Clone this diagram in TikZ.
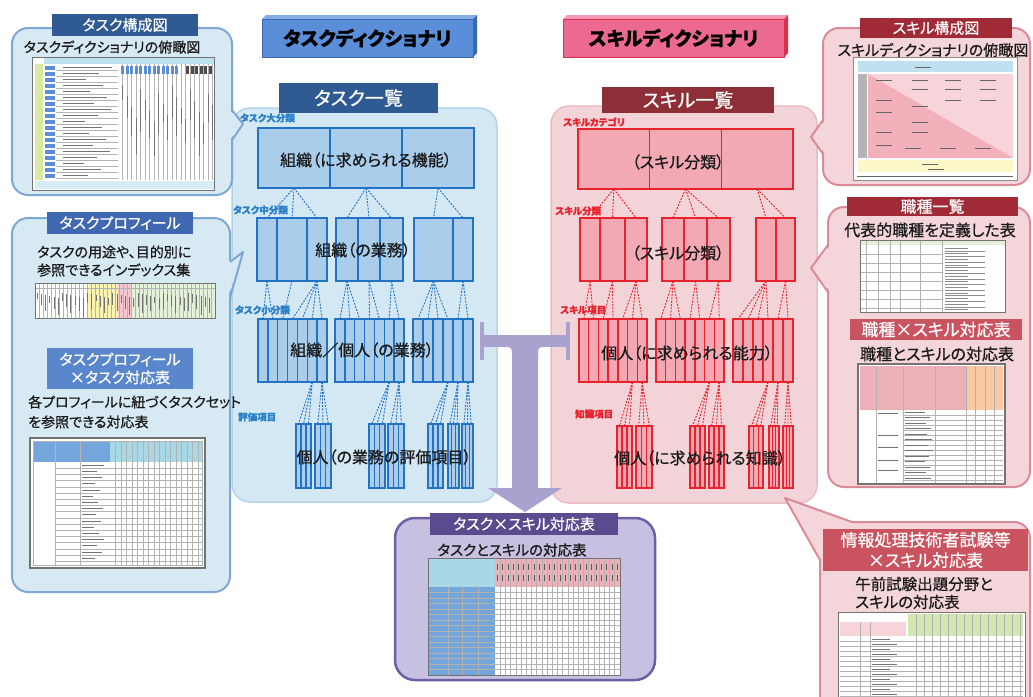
\documentclass[tikz,border=0pt]{standalone}
\usepackage{fontspec}
\setmainfont{Noto Sans CJK JP}[RawFeature=+palt, FakeBold=0.7]
\definecolor{tdark}{HTML}{2F5A92}
\definecolor{tmid}{HTML}{3F68B0}
\definecolor{tlight}{HTML}{5A87CB}
\definecolor{bubTfill}{HTML}{D7EAF4}
\definecolor{bubTdraw}{HTML}{7FA7D4}
\definecolor{tpanel}{HTML}{D4E8F3}
\definecolor{tpanelb}{HTML}{B3D3E8}
\definecolor{tbox}{HTML}{A9CDEB}
\definecolor{tboxb}{HTML}{2373C4}
\definecolor{tlab}{HTML}{2B80C9}
\definecolor{thead}{HTML}{5B8ED8}
\definecolor{theadb}{HTML}{3A69B2}
\definecolor{theadt}{HTML}{86ADE6}
\definecolor{shead}{HTML}{EC6A92}
\definecolor{sheadb}{HTML}{D9304E}
\definecolor{sheadt}{HTML}{F49AB5}
\definecolor{sdark}{HTML}{8E2F38}
\definecolor{sred}{HTML}{A02A36}
\definecolor{smid}{HTML}{C9545F}
\definecolor{bubSfill}{HTML}{F4D6DA}
\definecolor{bubSdraw}{HTML}{D98C97}
\definecolor{spanel}{HTML}{F2D4D8}
\definecolor{spanelb}{HTML}{E9BBC2}
\definecolor{sbox}{HTML}{F3A9B3}
\definecolor{sboxb}{HTML}{E8232E}
\definecolor{slab}{HTML}{E8232E}
\definecolor{arrowc}{HTML}{A9A2CF}
\definecolor{purfill}{HTML}{C8C0E0}
\definecolor{purdraw}{HTML}{6E5EA6}
\definecolor{purbar}{HTML}{5B4A8E}
\definecolor{txt}{HTML}{1A1A1A}
\definecolor{thblue}{HTML}{BFE0EE}
\definecolor{thgreen}{HTML}{D9E8A2}
\definecolor{thcell}{HTML}{5B8ED6}
\definecolor{thyel}{HTML}{FBF4B0}
\definecolor{thpink}{HTML}{F6C6D0}
\definecolor{thlgreen}{HTML}{E4F1DA}
\definecolor{thgreen2}{HTML}{D3E7B0}
\definecolor{thgray}{HTML}{B4B4B4}
\definecolor{thorange}{HTML}{F8C9A2}
\definecolor{thbh}{HTML}{74A6DC}
\definecolor{thcyan}{HTML}{A8D8E6}
\definecolor{thpinkl}{HTML}{F7D4DA}
\definecolor{thpinkd}{HTML}{F2B0BA}
\definecolor{thpinkh}{HTML}{EDB0B8}
\newcommand\fsz[1]{\fontsize{#1}{\dimexpr #1pt*6/5\relax}\selectfont}
\newcommand\mkcell[6]{\node[#6, minimum width={(#4-#2)*1pt}, minimum height={(#5-#3)*1pt}, anchor=north west] (#1) at (#2,#3) {};}
\newcommand\mkcols[7]{%
  \pgfmathsetmacro\cw{(#3-#2)/#6}%
  \foreach \ci in {1,...,#6}{%
    \node[#7, minimum width=\cw pt, minimum height={(#5-#4)*1pt}, anchor=north west] (#1-\ci) at ({#2+(\ci-1)*\cw},#4) {};
  }}
\newcommand\mkfan[4]{\foreach \k in {#3}{\draw[#4] (#1.south) -- (#2-\k.north);}}
\newcommand\thvgrid[6]{%
  \pgfmathtruncatemacro\gn{(#3-#1)/#5-0.01}%
  \foreach \gi in {1,...,\gn}{\draw[#6] ({#1+\gi*#5},#2) -- ({#1+\gi*#5},#4);}}
\newcommand\thhgrid[6]{%
  \pgfmathtruncatemacro\gm{(#4-#2)/#5-0.01}%
  \foreach \gi in {1,...,\gm}{\draw[#6] (#1,{#2+\gi*#5}) -- (#3,{#2+\gi*#5});}}
\newcommand\mkbar[8]{\node[fill=#6, inner sep=0pt, minimum width={(#4-#2)*1pt}, minimum height={(#5-#3)*1pt}, text=white, align=center, font=\fsz{#7}] (#1) at ({(#2+#4)/2},{(#3+#5)/2}) {#8};}
\begin{document}
\begin{tikzpicture}[x=1pt,y=-1pt,
  tcol/.style={draw=tboxb, fill=tbox, line width=1.4pt, inner sep=0pt, outer sep=0pt},
  tcolt/.style={draw=tboxb, fill=tbox, line width=1.1pt, inner sep=0pt, outer sep=0pt},
  scol/.style={draw=sboxb, fill=sbox, line width=1.4pt, inner sep=0pt, outer sep=0pt},
  scolt/.style={draw=sboxb, fill=sbox, line width=1.1pt, inner sep=0pt, outer sep=0pt},
  tdash/.style={draw=tboxb, line width=0.9pt, dash pattern=on 2pt off 1.3pt},
  sdash/.style={draw=sboxb, line width=0.9pt, dash pattern=on 2pt off 1.3pt},
  tlabel/.style={text=tlab, font=\fsz{9.5}\bfseries, anchor=west, inner sep=0pt},
  slabel/.style={text=slab, font=\fsz{9.5}\bfseries, anchor=west, inner sep=0pt},
  boxtext/.style={text=txt, font=\fsz{16}, inner sep=0pt},
  desc/.style={text=txt, inner sep=0pt},
  bubT/.style={fill=bubTfill, draw=bubTdraw, line width=2pt},
  bubS/.style={fill=bubSfill, draw=bubSdraw, line width=2pt},
  thl/.style={draw=black!30, line width=0.35pt},
  thtxt/.style={draw=black!55, line width=0.6pt},
  thframe/.style={draw=black!55, line width=0.8pt},
  ptrT/.style={draw=bubTdraw, line width=2pt, line join=round},
  ptrS/.style={draw=bubSdraw, line width=2pt, line join=round},
]
\useasboundingbox (0,0) rectangle (1033,696);
\fill[white] (0,0) rectangle (1033,696);

% ===== panels =====
\draw[fill=tpanel, draw=tpanelb, line width=1.5pt, rounded corners=18] (232,108) rectangle (497,502);
\draw[fill=spanel, draw=spanelb, line width=1.5pt, rounded corners=18] (551,106) rectangle (817,503);

% ===== 3D headers =====
\fill[theadt] (262,19) -- (266,15) -- (477,15) -- (473,19) -- cycle;
\fill[theadb] (473,19) -- (477,15) -- (477,53) -- (473,57) -- cycle;
\node[fill=thead, draw=theadb, line width=0.8pt, minimum width=211pt, minimum height=38pt, inner sep=0pt, font=\fsz{19}\bfseries, text=black] (thd) at (367.5,38) {タスクディクショナリ};
\fill[sheadt] (563,19) -- (567,15) -- (788,15) -- (784,19) -- cycle;
\fill[sheadb] (784,19) -- (788,15) -- (788,53) -- (784,57) -- cycle;
\node[fill=shead, draw=sheadb, line width=0.8pt, minimum width=221pt, minimum height=38pt, inner sep=0pt, font=\fsz{19}\bfseries, text=black] (shd) at (673.5,38) {スキルディクショナリ};

\mkbar{tlist}{279}{83}{438}{113}{tdark}{19}{タスク一覧}
\mkbar{slist}{602}{87}{774}{113}{sdark}{19}{スキル一覧}

% ===== task tree =====
\mkcols{TA}{258}{474}{128}{188}{3}{tcol}
\mkcell{TB-1}{257}{218}{277}{281}{tcol}
\mkcell{TB-2}{277}{218}{307}{281}{tcol}
\mkcell{TB-3}{307}{218}{327}{281}{tcol}
\mkcell{TB-4}{336}{218}{358}{281}{tcol}
\mkcell{TB-5}{358}{218}{380}{281}{tcol}
\mkcell{TB-6}{380}{218}{403}{281}{tcol}
\mkcell{TB-7}{414}{218}{453}{281}{tcol}
\mkcell{TB-8}{453}{218}{473}{281}{tcol}
\mkcols{TCa}{258}{327}{319}{382}{7}{tcol}
\mkcols{TCb}{335}{404}{319}{382}{7}{tcol}
\mkcols{TCc}{413}{473}{319}{382}{6}{tcol}
\mkcols{TDa}{296}{311}{424}{488}{3}{tcolt}
\mkcols{TDb}{315}{331}{424}{488}{3}{tcolt}
\mkcols{TDc}{369}{385}{424}{488}{3}{tcolt}
\mkcols{TDd}{388}{404}{424}{488}{3}{tcolt}
\mkcols{TDe}{428}{443}{424}{488}{3}{tcolt}
\mkcols{TDf}{448}{459}{424}{488}{3}{tcolt}
\mkcols{TDg}{462}{473}{424}{488}{3}{tcolt}
\mkfan{TA-1}{TB}{1,2,3}{tdash}
\mkfan{TA-2}{TB}{4,5,6}{tdash}
\mkfan{TA-3}{TB}{7,8}{tdash}
\mkfan{TB-1}{TCa}{1,2}{tdash}
\mkfan{TB-2}{TCa}{3}{tdash}
\mkfan{TB-3}{TCa}{4,5,6,7}{tdash}
\mkfan{TB-4}{TCb}{1,2,3}{tdash}
\mkfan{TB-5}{TCb}{4,5}{tdash}
\mkfan{TB-6}{TCb}{6,7}{tdash}
\mkfan{TB-7}{TCc}{1,2,3,4}{tdash}
\mkfan{TB-8}{TCc}{5,6}{tdash}
\mkfan{TCa-6}{TDa}{1,2,3}{tdash}
\mkfan{TCa-7}{TDb}{1,2,3}{tdash}
\mkfan{TCb-6}{TDc}{1,2,3}{tdash}
\mkfan{TCb-7}{TDd}{1,2,3}{tdash}
\mkfan{TCc-4}{TDe}{1,2,3}{tdash}
\mkfan{TCc-5}{TDf}{1,2,3}{tdash}
\mkfan{TCc-6}{TDg}{1,2,3}{tdash}
\node[tlabel] (lt1) at (240,118) {タスク大分類};
\node[tlabel] (lt2) at (233,210) {タスク中分類};
\node[tlabel] (lt3) at (235,310) {タスク小分類};
\node[tlabel] (lt4) at (238,417) {評価項目};
\node[boxtext] (tx1) at (366,160) {組織（に求められる機能）};
\node[boxtext] (tx2) at (363,250) {組織（の業務）};
\node[boxtext] (tx3) at (362,350) {組織／個人（の業務）};
\node[boxtext] (tx4) at (384,457) {個人（の業務の評価項目）};

% ===== skill tree =====
\mkcols{SA}{578}{793}{129}{189}{3}{scol}
\mkcell{SB-1}{580}{218}{600}{281}{scol}
\mkcell{SB-2}{600}{218}{625}{281}{scol}
\mkcell{SB-3}{625}{218}{647}{281}{scol}
\mkcell{SB-4}{662}{218}{684}{281}{scol}
\mkcell{SB-5}{684}{218}{707}{281}{scol}
\mkcell{SB-6}{707}{218}{730}{281}{scol}
\mkcell{SB-7}{756}{218}{776}{281}{scol}
\mkcell{SB-8}{776}{218}{795}{281}{scol}
\mkcols{SCa}{579}{647}{319}{382}{7}{scol}
\mkcols{SCb}{656}{724}{319}{382}{7}{scol}
\mkcols{SCc}{733}{793}{319}{382}{6}{scol}
\mkcols{SDa}{617}{632}{426}{488}{3}{scolt}
\mkcols{SDb}{636}{652}{426}{488}{3}{scolt}
\mkcols{SDc}{690}{705}{426}{488}{3}{scolt}
\mkcols{SDd}{709}{724}{426}{488}{3}{scolt}
\mkcols{SDe}{749}{763}{426}{488}{3}{scolt}
\mkcols{SDf}{769}{779}{426}{488}{3}{scolt}
\mkcols{SDg}{783}{793}{426}{488}{3}{scolt}
\mkfan{SA-1}{SB}{1,2,3}{sdash}
\mkfan{SA-2}{SB}{4,5,6}{sdash}
\mkfan{SA-3}{SB}{7,8}{sdash}
\mkfan{SB-1}{SCa}{1,2}{sdash}
\mkfan{SB-2}{SCa}{3,4}{sdash}
\mkfan{SB-3}{SCa}{5,6,7}{sdash}
\mkfan{SB-4}{SCb}{1,2,3}{sdash}
\mkfan{SB-5}{SCb}{4,5}{sdash}
\mkfan{SB-6}{SCb}{6,7}{sdash}
\mkfan{SB-7}{SCc}{1,2,3,4}{sdash}
\mkfan{SB-8}{SCc}{5,6}{sdash}
\mkfan{SCa-6}{SDa}{1,2,3}{sdash}
\mkfan{SCa-7}{SDb}{1,2,3}{sdash}
\mkfan{SCb-6}{SDc}{1,2,3}{sdash}
\mkfan{SCb-7}{SDd}{1,2,3}{sdash}
\mkfan{SCc-4}{SDe}{1,2,3}{sdash}
\mkfan{SCc-5}{SDf}{1,2,3}{sdash}
\mkfan{SCc-6}{SDg}{1,2,3}{sdash}
\node[slabel] (ls1) at (563,122) {スキルカテゴリ};
\node[slabel] (ls2) at (555,211) {スキル分類};
\node[slabel] (ls3) at (560,310) {スキル項目};
\node[slabel] (ls4) at (575,414) {知識項目};
\node[boxtext] (sx1) at (678,162) {（スキル分類）};
\node[boxtext] (sx2) at (678,253) {（スキル分類）};
\node[boxtext] (sx3) at (687,353) {個人（に求められる能力）};
\node[boxtext] (sx4) at (700,458) {個人（に求められる知識）};

% ===== T arrow =====
\fill[arrowc] (480,322) rectangle (484,360);
\fill[arrowc] (566,322) rectangle (570,360);
\fill[arrowc] (482,335) rectangle (568,347);
\fill[arrowc] (504,347) .. controls (512,347) .. (512,356) -- (538,356) .. controls (538,347) .. (546,347) -- cycle;
\fill[arrowc] (512,346) -- (538,346) -- (538,488) -- (562,488) -- (525,512) -- (488,488) -- (512,488) -- cycle;

% ===== bottom purple bubble =====
\draw[fill=purfill, draw=purdraw, line width=2.5pt, rounded corners=20] (395,518) rectangle (655,680);
\node[desc, font=\fsz{14.5}] (d8) at (512,550) {タスクとスキルの対応表};
\fill[white] (428,558) rectangle (620,675);
\fill[thcyan] (428,558) rectangle (495,587);
\fill[thpinkh] (495,558) rectangle (620,587);
\fill[thbh] (428,587) rectangle (495,675);
\thhgrid{428}{587}{620}{675}{5.5}{thl}
\thvgrid{495}{558}{620}{675}{5.2}{thl}
\foreach \x in {448,462,478}{\draw[thl] (\x,587) -- (\x,675);}
\foreach \c in {0,...,23}{\draw[black!65, line width=0.8pt] ({497.5+\c*5.2},564) -- ++(0,6); \draw[black!65, line width=0.8pt] ({497.5+\c*5.2},575) -- ++(0,6);}
\draw[thframe] (428,558) rectangle (620,675);
\mkbar{b10}{430}{513}{618}{535}{purbar}{15}{タスク×スキル対応表}

% ===== left bubble 1 =====
\draw[bubT, rounded corners=16] (12,28) rectangle (232,195);
\fill[bubTfill] (229.5,110) -- (243,124) -- (229.5,140) -- cycle;
\draw[ptrT] (232,110) -- (243,124) -- (232,140);
\node[desc, font=\fsz{14}] (d1) at (112,47) {タスクディクショナリの俯瞰図};
\fill[white] (32,57) rectangle (214,190);
\fill[thblue] (44,58) rectangle (214,64);
\fill[thgreen] (35,64) rectangle (43,180);
\foreach \r in {0,...,18}{\fill[thcell] (45,{65.5+\r*6}) rectangle (55,{69.5+\r*6});}
\thhgrid{56}{64}{118}{180}{6}{thl}
\foreach \r in {0,...,18}{\draw[thtxt] (63,{67.5+\r*6}) -- ({112-mod(\r*13,30)},{67.5+\r*6});}
\thvgrid{118}{64}{214}{180}{4.5}{thl}
\foreach \c in {0,...,12}{\fill[thcell] ({121+\c*4.5},66) rectangle ({124+\c*4.5},74);}
\foreach \c in {0,...,5}{\fill[black!70] ({186+\c*4.5},66) rectangle ({189+\c*4.5},74);}
\foreach \c in {0,...,20}{\draw[thtxt] ({122.5+\c*4.5},{85+mod(\c*11,40)}) -- ++(0,{15+mod(\c*7,30)});}
\fill[thblue!60] (35,181) rectangle (214,189);
\draw[thframe] (32,57) rectangle (214,190);
\mkbar{b1}{52}{14}{198}{36}{tdark}{15}{タスク構成図}

% ===== left bubble 2 =====
\draw[bubT, rounded corners=16] (12,218) rectangle (230,592);
\fill[bubTfill] (227.5,262) -- (243,252) -- (227.5,298) -- cycle;
\draw[ptrT] (230,262) -- (243,252) -- (230,298);
\node[desc, font=\fsz{14}, anchor=west] (d2a) at (37,252) {タスクの用途や、目的別に};
\node[desc, font=\fsz{14}, anchor=west] (d2b) at (37,270) {参照できるインデックス集};
\fill[white] (35,283) rectangle (215,318);
\fill[thyel] (87,284) rectangle (118,318);
\fill[thpink] (118,284) rectangle (132,318);
\fill[thlgreen] (132,284) rectangle (215,318);
\thvgrid{35}{283}{215}{318}{4}{thl}
\draw[thl] (35,288) -- (215,288);
\foreach \c in {0,...,41}{\draw[thtxt] ({37+\c*4.2},{293+mod(\c*7,6)}) -- ++(0,{6+mod(\c*5,14)});}
\draw[thframe] (35,283) rectangle (215,318);
\node[desc, font=\fsz{14}, anchor=west] (d3a) at (28,402) {各プロフィールに紐づくタスクセット};
\node[desc, font=\fsz{14}, anchor=west] (d3b) at (28,422) {を参照できる対応表};
\fill[white] (30,438) rectangle (205,568);
\fill[thbh] (33,441) rectangle (110,462);
\fill[thcyan] (110,441) rectangle (202,462);
\thhgrid{55}{462}{202}{565}{6.2}{thl}
\thvgrid{110}{441}{202}{565}{5.5}{thl}
\foreach \x in {55,80}{\draw[thl] (\x,441) -- (\x,565);}
\foreach \r in {0,...,15}{\draw[thtxt] (82,{465+\r*6.2}) -- ({104-mod(\r*7,12)},{465+\r*6.2});}
\draw[black!55, line width=1.6pt] (30,438) rectangle (205,568);
\draw[thl] (33,441) rectangle (202,565);
\mkbar{b2}{47}{212}{193}{234}{tmid}{15}{タスクプロフィール}
\mkbar{b3}{47}{348}{193}{389}{tlight}{15}{タスクプロフィール\\×タスク対応表}

% ===== right bubble 1 =====
\draw[bubS, rounded corners=16] (823,28) rectangle (1030,185);
\fill[bubSfill] (825.5,120) -- (811,137) -- (825.5,154) -- cycle;
\draw[ptrS] (823,120) -- (811,137) -- (823,154);
\node[desc, font=\fsz{15}] (d4) at (933,50) {スキルディクショナリの俯瞰図};
\fill[white] (853,57) rectangle (1017,180);
\fill[thblue] (858,61) rectangle (1013,72);
\fill[thpinkl] (868,74) rectangle (1013,158);
\fill[thpinkd] (868,74) -- (868,158) -- (1013,158) -- cycle;
\fill[thgray] (858,74) rectangle (867,158);
\fill[thyel!70] (858,160) rectangle (1013,172);
\foreach \a/\b in {876/80, 912/80, 945/80, 980/80, 912/89, 945/89, 980/89, 876/100, 945/100, 980/100, 912/106, 876/112, 912/122, 876/132, 912/132, 876/145, 905/148, 940/148, 975/148, 922/164, 928/169, 915/67}{\draw[black!60, line width=0.9pt] (\a,\b) -- ++(16,0);}
\draw[black!60, line width=0.5pt] (857,176) -- (1013,176);
\draw[draw=black!45, line width=0.8pt] (853,57) rectangle (1017,180);
\mkbar{b6}{860}{18}{1012}{38}{sred}{15}{スキル構成図}

% ===== right bubble 2 =====
\draw[bubS, rounded corners=16] (828,207) rectangle (1030,487);
\fill[bubSfill] (830.5,245) -- (811,268) -- (830.5,292) -- cycle;
\draw[ptrS] (828,245) -- (811,268) -- (828,292);
\node[desc, font=\fsz{16}] (d5) at (930,230) {代表的職種を定義した表};
\fill[white] (860,240) rectangle (1005,312);
\fill[thlgreen] (860,240) rectangle (1005,245);
\foreach \x in {866,878,890,900,920,942}{\draw[thl] (\x,240) -- (\x,312);}
\thhgrid{860}{245}{942}{312}{9}{thl}
\foreach \r in {0,...,22}{\draw[black!45, line width=0.5pt] (945,{248+\r*2.8}) -- ({968+mod(\r*17,34)},{248+\r*2.8});}
\draw[thframe] (860,240) rectangle (1005,312);
\node[desc, font=\fsz{16}] (d6) at (937,354) {職種とスキルの対応表};
\fill[white] (858,364) rectangle (1005,484);
\fill[thpinkh] (860,366) rectangle (966,410);
\fill[thorange] (966,366) rectangle (1003,410);
\foreach \x in {876,903,935,966,975,985,994}{\draw[thl] (\x,366) -- (\x,484);}
\thhgrid{903}{410}{1003}{484}{5}{thl}
\foreach \r in {0,...,12}{\draw[thtxt] (905,{412+\r*5.5}) -- ({925+mod(\r*5,9)},{412+\r*5.5});}
\foreach \a in {413,435,447,460,470}{\draw[thtxt] (878,\a) -- (898,\a);}
\draw[black!55, line width=1.5pt] (858,364) rectangle (1005,484);
\mkbar{b7}{847}{197}{1018}{216}{sred}{16}{職種一覧}
\mkbar{b8}{850}{319}{1022}{340}{smid}{17}{職種×スキル対応表}

% ===== right bubble 3 =====
\draw[bubS, rounded corners=16] (820,522) rectangle (1030,720);
\fill[bubSfill] (785,498) -- (820,560) -- (852,522) -- cycle;
\draw[ptrS] (820,560) -- (785,498) -- (852,522);
\node[desc, font=\fsz{15.5}, anchor=west] (d7a) at (855,584) {午前試験出題分野と};
\node[desc, font=\fsz{15.5}, anchor=west] (d7b) at (855,602) {スキルの対応表};
\fill[white] (838,612) rectangle (1025,700);
\fill[thgreen2] (908,614) rectangle (1023,636);
\fill[thpinkl] (840,622) rectangle (906,636);
\thhgrid{840}{636}{1023}{700}{5}{thl}
\thvgrid{908}{614}{1023}{700}{8}{thl}
\foreach \x in {860,870}{\draw[thl] (\x,622) -- (\x,700);}
\foreach \r in {0,...,11}{\draw[thtxt] (872,{639+\r*5}) -- ({890+mod(\r*7,14)},{639+\r*5});}
\draw[thframe] (838,612) rectangle (1025,700);
\mkbar{b9}{823}{529}{1028}{571}{smid}{17}{情報処理技術者試験等\\×スキル対応表}
\end{tikzpicture}
\end{document}
